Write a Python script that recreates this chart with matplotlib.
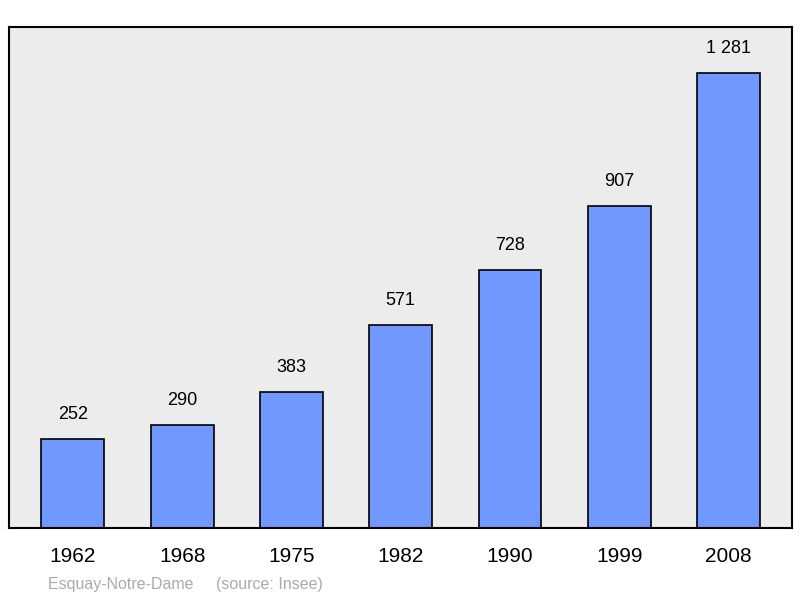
import matplotlib
matplotlib.use("Agg")
import matplotlib.pyplot as plt

years = ["1962", "1968", "1975", "1982", "1990", "1999", "2008"]
population = [252, 290, 383, 571, 728, 907, 1281]
labels = ["252", "290", "383", "571", "728", "907", "1 281"]

plt.rcParams['font.family'] = ['Liberation Sans', 'DejaVu Sans']
fig = plt.figure(figsize=(8, 5.98), dpi=100)
ax = fig.add_axes([9/800, 1-528/598, 783/800, 501/598])
ax.set_facecolor('#ececec')
x = list(range(len(years)))
ax.bar(x, population, width=0.575, color='#7098ff', edgecolor='black', linewidth=1.2, zorder=2)
for xi, v, l in zip(x, population, labels):
    ax.text(xi, v + 45, l, ha='center', va='bottom', fontsize=13)
ax.set_xlim(-0.584, 6.58)
ax.set_ylim(0, 1411)
ax.set_yticks([])
ax.set_xticks(x)
ax.set_xticklabels(years, fontsize=15)
ax.tick_params(axis='x', length=0, pad=14)
for s in ax.spines.values():
    s.set_linewidth(1.5)
fig.text(48/800, 1-584/598, "Esquay-Notre-Dame     (source: Insee)", color='#aaaaaa', fontsize=11.5, va='center')
fig.savefig("out.png", dpi=100)
